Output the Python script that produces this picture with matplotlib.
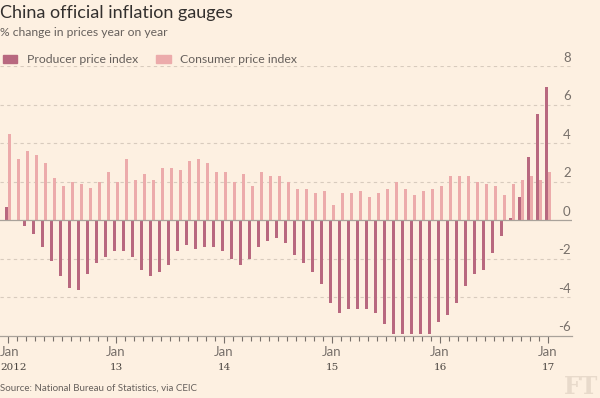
import matplotlib
matplotlib.use("Agg")
import matplotlib.pyplot as plt
from matplotlib.patches import Rectangle
import numpy as np

# monthly data, Jan 2012 - Jan 2017 (% change year on year)
ppi = [0.7, 0.0, -0.3, -0.7, -1.4, -2.1, -2.9, -3.5, -3.6, -2.8, -2.2, -1.9,
       -1.6, -1.6, -1.9, -2.6, -2.9, -2.7, -2.3, -1.6, -1.3, -1.5, -1.4, -1.4,
       -1.6, -2.0, -2.3, -2.0, -1.4, -1.1, -0.9, -1.2, -1.8, -2.2, -2.7, -3.3,
       -4.3, -4.8, -4.6, -4.6, -4.6, -4.8, -5.4, -5.9, -5.9, -5.9, -5.9, -5.9,
       -5.3, -4.9, -4.3, -3.4, -2.8, -2.6, -1.7, -0.8, 0.1, 1.2, 3.3, 5.5,
       6.9]
cpi = [4.5, 3.2, 3.6, 3.4, 3.0, 2.2, 1.8, 2.0, 1.9, 1.7, 2.0, 2.5,
       2.0, 3.2, 2.1, 2.4, 2.1, 2.7, 2.7, 2.6, 3.1, 3.2, 3.0, 2.5,
       2.5, 2.0, 2.4, 1.8, 2.5, 2.3, 2.3, 2.0, 1.6, 1.6, 1.4, 1.5,
       0.8, 1.4, 1.4, 1.5, 1.2, 1.4, 1.6, 2.0, 1.6, 1.3, 1.5, 1.6,
       1.8, 2.3, 2.3, 2.3, 2.0, 1.9, 1.8, 1.3, 1.9, 2.1, 2.3, 2.1,
       2.5]
years = ["2012", "13", "14", "15", "16", "17"]
yticks = [-6, -4, -2, 0, 2, 4, 6, 8]

bg = "#fdf0e1"
ppi_col = "#b8687f"
cpi_col = "#ecabab"
grey = "#66605c"

fig = plt.figure(figsize=(6, 3.98), dpi=100, facecolor=bg)
plt.rcParams["font.family"] = ["Lato", "DejaVu Sans"]

ax = fig.add_axes([0.0, 1 - 335.7 / 398, 572 / 600, (335.7 - 66.3) / 398])
ax.set_facecolor(bg)

x = np.arange(len(ppi))
ax.bar(x - 0.167, ppi, width=0.333, color=ppi_col, zorder=3)
ax.bar(x + 0.167, cpi, width=0.333, color=cpi_col, zorder=3)

ax.set_xlim(-0.89, 62.67)
ax.set_ylim(-6, 8)

# dashed gridlines, solid zero line, labels sit on top of the lines at the right
for v in yticks:
    if v == 0:
        ax.axhline(0, color="#a9a29a", lw=0.9, zorder=4)
    elif v != -6:
        ax.axhline(v, color="#d8cbbd", lw=0.8, ls=(0, (3, 3)), zorder=1)
    ax.annotate(str(v), xy=(1, v), xycoords=("axes fraction", "data"),
                xytext=(-1, 6), textcoords="offset points", ha="right", va="center",
                fontsize=9.5, color="#77706a")

for s in ["top", "left", "right"]:
    ax.spines[s].set_visible(False)
ax.spines["bottom"].set_color("#a9a29a")
ax.spines["bottom"].set_linewidth(0.9)

ax.set_yticks([])
ax.set_xticks(np.arange(0, 61, 12))
ax.set_xticks(np.arange(0, 61, 1), minor=True)
ax.tick_params(axis="x", which="major", length=5, color="#77706a", width=0.8,
               labelbottom=False)
ax.tick_params(axis="x", which="minor", length=3.5, color="#77706a", width=0.8)

# "Jan" + year labels; the first pair starts flush with the left edge
for i, yr in enumerate(years):
    if i == 0:
        xy, ha, coords = (0, 0), "left", ("axes fraction", "axes fraction")
    else:
        xy, ha, coords = (i * 12, 0), "center", ("data", "axes fraction")
    ax.annotate("Jan", xy=xy, xycoords=coords, xytext=(0, -11.5),
                textcoords="offset points", ha=ha, va="center",
                fontsize=9.5, color="#77706a")
    ax.annotate(yr, xy=xy, xycoords=coords, xytext=(0, -23),
                textcoords="offset points", ha=ha, va="center",
                fontsize=7.5, color="#4a4540", family="DejaVu Serif")

# titles
fig.text(0.0, 1 - 13 / 398, "China official inflation gauges", fontsize=13,
         color="#33302e", va="center", ha="left")
fig.text(0.0, 1 - 32 / 398, "% change in prices year on year", fontsize=8.7,
         color=grey, va="center", ha="left")

# legend
fig.patches.append(Rectangle((3 / 600, 1 - 63 / 398), 14 / 600, 8 / 398,
                             transform=fig.transFigure, color=ppi_col))
fig.text(27 / 600, 1 - 59.5 / 398, "Producer price index", fontsize=8.8,
         color=grey, va="center")
fig.patches.append(Rectangle((156 / 600, 1 - 63 / 398), 15 / 600, 8 / 398,
                             transform=fig.transFigure, color=cpi_col))
fig.text(180 / 600, 1 - 59.5 / 398, "Consumer price index", fontsize=8.8,
         color=grey, va="center")

# source and logo
fig.text(0.0, 1 - 388 / 398, "Source: National Bureau of Statistics, via CEIC",
         fontsize=7, color=grey, va="center")
fig.text(598 / 600, 1 - 387 / 398, "FT", fontsize=17, color="#e8dacb",
         family="DejaVu Serif", weight="bold", ha="right", va="center")

fig.savefig("out.png", dpi=100, facecolor=bg)
